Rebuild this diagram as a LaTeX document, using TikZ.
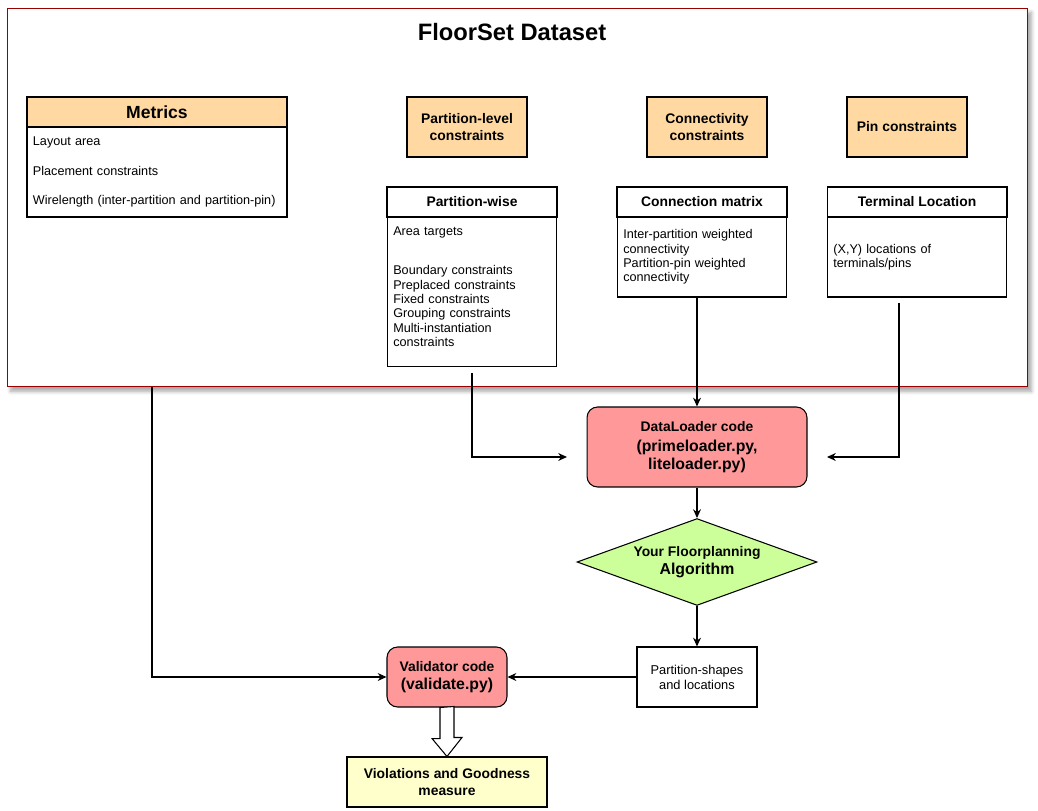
\documentclass[tikz,border=0pt]{standalone}
\usepackage{fontspec}
\setmainfont{Liberation Sans}
\usepackage{tikz}
\usetikzlibrary{positioning,arrows.meta,shapes.geometric,shadows.blur}
\definecolor{floorred}{RGB}{153,0,0}
\definecolor{floorpeach}{RGB}{255,217,161}
\definecolor{floorpink}{RGB}{255,153,153}
\definecolor{floorgreen}{RGB}{204,255,153}
\definecolor{flooryellow}{RGB}{255,255,204}
\newcommand{\smallbf}{\fontsize{7.9}{9.6}\selectfont\bfseries}
\newcommand{\largebf}{\fontsize{9}{10.4}\selectfont\bfseries}

\begin{document}
\begin{tikzpicture}[
        x=0.02cm, y=-0.02cm,
        line width=0.6pt,
        frame/.style={draw=floorred, fill=white, minimum width=20.42cm, minimum height=7.58cm,
            blur shadow={shadow xshift=2pt, shadow yshift=-2.5pt, shadow blur steps=6, shadow opacity=35}},
        peach/.style={draw, fill=floorpeach, align=center, font=\smallbf, minimum width=2.4cm, minimum height=1.2cm},
        hdr/.style={draw, outer sep=0pt, align=center, font=\smallbf, minimum height=0.6cm},
        lst/.style={draw, outer sep=0pt, align=left, inner xsep=3.4pt, inner ysep=0pt,
            font=\fontsize{7.2}{8.2}\selectfont},
        code/.style={draw, rounded corners=6pt, fill=floorpink, align=center, font=\largebf,
            minimum width=2.4cm, minimum height=1.2cm},
        arrow/.style={-{Stealth[length=5pt,width=4.5pt]}, draw=black}
    ]
        \useasboundingbox (0,0) rectangle (1038,811);
        \node[frame] (frame) at (517.5,197.5) {};
        \node[font=\fontsize{13.5}{16}\selectfont\bfseries] (title) at (512,32) {FloorSet Dataset};
        % metrics table
        \node[hdr, fill=floorpeach, minimum width=5.2cm, font=\fontsize{10}{12}\selectfont\bfseries] (mhdr) at (157,112) {Metrics};
        \node[lst, below=0pt of mhdr, text width=141.2pt, minimum height=1.8cm] (mbody)
            {Layout area\\[8.8pt]Placement constraints\\[8.8pt]Wirelength (inter-partition and partition-pin)};
        % constraint groups
        \node[peach] (plc) at (467,127) {Partition-level\\constraints};
        \node[peach] (cc) at (707,127) {Connectivity\\constraints};
        \node[peach] (pc) at (907,127) {Pin constraints};
        \node[hdr, minimum width=3.4cm] (pwh) at (472,202) {Partition-wise};
        \node[lst, below=0pt of pwh, text width=89.6pt, minimum height=3cm] (pwb)
            {Area targets\\[13.9pt]Boundary constraints\\Preplaced constraints\\Fixed constraints\\Grouping constraints\\Multi-instantiation\\constraints\\[-2.5pt]~};
        \node[hdr, minimum width=3.4cm] (cmh) at (702,202) {Connection matrix};
        \node[lst, below=0pt of cmh, text width=89.6pt, minimum height=1.6cm] (cmb)
            {Inter-partition weighted\\connectivity\\Partition-pin weighted\\connectivity};
        \node[hdr, minimum width=3.6cm] (tlh) at (917,202) {Terminal Location};
        \node[lst, below=0pt of tlh, text width=95.2pt, minimum height=1.6cm] (tlb)
            {(X,Y) locations of\\terminals/pins};
        % flow
        \node[code, minimum width=4.4cm, minimum height=1.6cm] (dl) at (697,447)
            {{\smallbf DataLoader code}\\[1.2pt](primeloader.py,\\liteloader.py)};
        \node[diamond, draw, fill=floorgreen, aspect=2.3, minimum width=4.8cm, inner sep=0pt,
            align=center, font=\largebf] (alg) at (697,562) {{\smallbf Your Floorplanning}\\Algorithm};
        \node[draw, align=center, font=\fontsize{7.3}{8.5}\selectfont, minimum width=2.4cm, minimum height=1.2cm] (shp) at (697,677)
            {Partition-shapes\\and locations};
        \node[code] (val) at (447,677) {{\smallbf Validator code}\\(validate.py)};
        \node[draw, fill=flooryellow, align=center, font=\smallbf, minimum width=4cm, minimum height=1cm] (viol) at (447,782)
            {Violations and Goodness\\measure};
        \coordinate (mout) at (152,387);
        \coordinate (pwin) at (567,457);
        \coordinate (tlout) at (899,303);
        \coordinate (tlin) at (827,457);
        \draw[arrow] (mout) |- (val.west);
        \draw[arrow, shorten <=3.4pt] (pwb.south) |- (pwin);
        \draw[arrow] (dl.north |- cmb.south) -- (dl.north);
        \draw[arrow] (tlout) |- (tlin);
        \draw[arrow] (dl.south) -- (alg.north);
        \draw[arrow] (alg.south) -- (shp.north);
        \draw[arrow] (shp.west) -- (val.east);
        \draw[fill=white] (val.south) ++(-7,0) -- ++(0,31) -- ++(-8,0) -- (viol.north)
            -- ++(15,-19) -- ++(-8,0) -- ++(0,-31) -- cycle;
    \end{tikzpicture}
\end{document}
